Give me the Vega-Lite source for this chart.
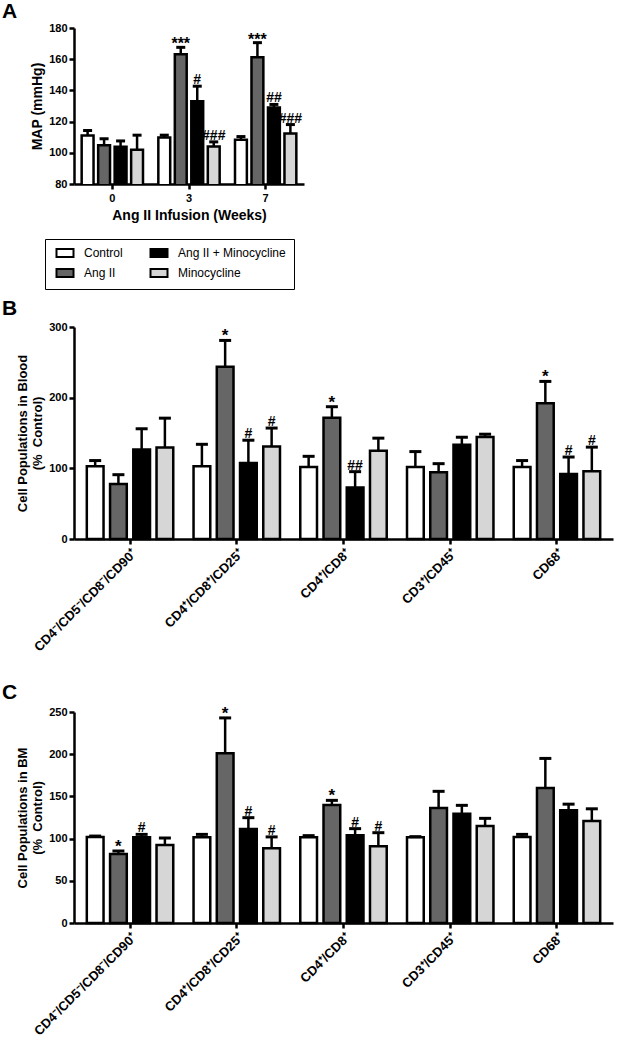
{
  "$schema": "https://vega.github.io/schema/vega-lite/v6.json",
  "background": "white",
  "padding": {"left": 2, "top": 1, "right": 2, "bottom": 2},
  "spacing": 8,
  "config": {
    "font": "Liberation Sans",
    "view": {"stroke": null},
    "axis": {"domainColor": "black", "domainWidth": 2.5, "tickColor": "black", "tickWidth": 2.5, "tickSize": 5, "labelFont": "Liberation Sans", "labelFontWeight": "bold", "labelFontSize": 11, "labelColor": "black", "labelOverlap": false, "titleFont": "Liberation Sans", "titleFontSize": 13, "titleFontWeight": "bold", "titleColor": "black", "grid": false},
    "axisY": {"labelOverlap": false, "labelSeparation": 0},
    "axisQuantitative": {"labelOverlap": false},
    "title": {"font": "Liberation Sans", "fontSize": 21, "fontWeight": "bold", "color": "black", "anchor": "start", "frame": "group"}
  },
  "resolve": {"scale": {"fill": "independent", "x": "independent", "y": "independent", "xOffset": "independent"}, "legend": {"fill": "independent"}},
  "datasets": {
    "A": [
      {"g": "0", "t": "Control", "v": 111.1, "u": 114.3, "s": ""},
      {"g": "0", "t": "Ang II", "v": 104.8, "u": 109, "s": ""},
      {"g": "0", "t": "Ang II + Minocycline", "v": 103.8, "u": 107.6, "s": ""},
      {"g": "0", "t": "Minocycline", "v": 102, "u": 111.3, "s": ""},
      {"g": "3", "t": "Control", "v": 109.8, "u": 111.3, "s": ""},
      {"g": "3", "t": "Ang II", "v": 163.1, "u": 167.6, "s": "***"},
      {"g": "3", "t": "Ang II + Minocycline", "v": 133.1, "u": 142.7, "s": "#"},
      {"g": "3", "t": "Minocycline", "v": 104, "u": 107, "s": "###"},
      {"g": "7", "t": "Control", "v": 108.3, "u": 110.4, "s": ""},
      {"g": "7", "t": "Ang II", "v": 161.2, "u": 170.6, "s": "***"},
      {"g": "7", "t": "Ang II + Minocycline", "v": 129, "u": 131, "s": "##"},
      {"g": "7", "t": "Minocycline", "v": 112.3, "u": 118.1, "s": "###"}
    ],
    "B": [
      {"g": "CD4⁻/CD5⁻/CD8⁻/CD90⁺", "t": "Control", "v": 102.8, "u": 111, "s": ""},
      {"g": "CD4⁻/CD5⁻/CD8⁻/CD90⁺", "t": "Ang II", "v": 78, "u": 91, "s": ""},
      {"g": "CD4⁻/CD5⁻/CD8⁻/CD90⁺", "t": "Ang II + Minocycline", "v": 126.5, "u": 156, "s": ""},
      {"g": "CD4⁻/CD5⁻/CD8⁻/CD90⁺", "t": "Minocycline", "v": 129.4, "u": 171, "s": ""},
      {"g": "CD4⁺/CD8⁺/CD25⁺", "t": "Control", "v": 102.8, "u": 134, "s": ""},
      {"g": "CD4⁺/CD8⁺/CD25⁺", "t": "Ang II", "v": 243.6, "u": 281, "s": "*"},
      {"g": "CD4⁺/CD8⁺/CD25⁺", "t": "Ang II + Minocycline", "v": 107.6, "u": 139.8, "s": "#"},
      {"g": "CD4⁺/CD8⁺/CD25⁺", "t": "Minocycline", "v": 131, "u": 157, "s": "#"},
      {"g": "CD4⁺/CD8⁺", "t": "Control", "v": 101.9, "u": 117, "s": ""},
      {"g": "CD4⁺/CD8⁺", "t": "Ang II", "v": 171.6, "u": 187.2, "s": "*"},
      {"g": "CD4⁺/CD8⁺", "t": "Ang II + Minocycline", "v": 73, "u": 95.3, "s": "##"},
      {"g": "CD4⁺/CD8⁺", "t": "Minocycline", "v": 125, "u": 142.7, "s": ""},
      {"g": "CD3⁺/CD45⁺", "t": "Control", "v": 102, "u": 123.7, "s": ""},
      {"g": "CD3⁺/CD45⁺", "t": "Ang II", "v": 94.3, "u": 106.6, "s": ""},
      {"g": "CD3⁺/CD45⁺", "t": "Ang II + Minocycline", "v": 133.2, "u": 144, "s": ""},
      {"g": "CD3⁺/CD45⁺", "t": "Minocycline", "v": 144.5, "u": 148.3, "s": ""},
      {"g": "CD68⁺", "t": "Control", "v": 102, "u": 111, "s": ""},
      {"g": "CD68⁺", "t": "Ang II", "v": 192, "u": 223, "s": "*"},
      {"g": "CD68⁺", "t": "Ang II + Minocycline", "v": 92, "u": 116, "s": "#"},
      {"g": "CD68⁺", "t": "Minocycline", "v": 96, "u": 130, "s": "#"}
    ],
    "C": [
      {"g": "CD4⁻/CD5⁻/CD8⁻/CD90⁺", "t": "Control", "v": 101.9, "u": 103, "s": ""},
      {"g": "CD4⁻/CD5⁻/CD8⁻/CD90⁺", "t": "Ang II", "v": 81.8, "u": 85.3, "s": "*"},
      {"g": "CD4⁻/CD5⁻/CD8⁻/CD90⁺", "t": "Ang II + Minocycline", "v": 101.5, "u": 105, "s": "#"},
      {"g": "CD4⁻/CD5⁻/CD8⁻/CD90⁺", "t": "Minocycline", "v": 92.4, "u": 100.7, "s": ""},
      {"g": "CD4⁺/CD8⁺/CD25⁺", "t": "Control", "v": 101.5, "u": 105, "s": ""},
      {"g": "CD4⁺/CD8⁺/CD25⁺", "t": "Ang II", "v": 201, "u": 243, "s": "*"},
      {"g": "CD4⁺/CD8⁺/CD25⁺", "t": "Ang II + Minocycline", "v": 111.4, "u": 124.8, "s": "#"},
      {"g": "CD4⁺/CD8⁺/CD25⁺", "t": "Minocycline", "v": 88.5, "u": 102, "s": "#"},
      {"g": "CD4⁺/CD8⁺", "t": "Control", "v": 101.5, "u": 103.5, "s": ""},
      {"g": "CD4⁺/CD8⁺", "t": "Ang II", "v": 139.8, "u": 145.3, "s": "*"},
      {"g": "CD4⁺/CD8⁺", "t": "Ang II + Minocycline", "v": 104, "u": 111.8, "s": "#"},
      {"g": "CD4⁺/CD8⁺", "t": "Minocycline", "v": 90.8, "u": 107, "s": "#"},
      {"g": "CD3⁺/CD45⁺", "t": "Control", "v": 101.5, "u": 102.3, "s": ""},
      {"g": "CD3⁺/CD45⁺", "t": "Ang II", "v": 136.3, "u": 156, "s": ""},
      {"g": "CD3⁺/CD45⁺", "t": "Ang II + Minocycline", "v": 129.5, "u": 139.4, "s": ""},
      {"g": "CD3⁺/CD45⁺", "t": "Minocycline", "v": 115, "u": 124, "s": ""},
      {"g": "CD68⁺", "t": "Control", "v": 102, "u": 105, "s": ""},
      {"g": "CD68⁺", "t": "Ang II", "v": 160, "u": 195, "s": ""},
      {"g": "CD68⁺", "t": "Ang II + Minocycline", "v": 133.7, "u": 140.8, "s": ""},
      {"g": "CD68⁺", "t": "Minocycline", "v": 121, "u": 135.3, "s": ""}
    ]
  },
  "vconcat": [
    {
      "width": 230, "height": 156,
      "title": {"text": "A", "dx": -72, "offset": 0},
      "data": {"name": "A"},
      "encoding": {
        "x": {"field": "g", "type": "nominal", "sort": ["0", "3", "7"], "scale": {"paddingInner": 0.2, "paddingOuter": 0.1}, "axis": {"title": "Ang II Infusion (Weeks)", "titleFontSize": 14, "labelAngle": 0, "labelPadding": 3, "titlePadding": 5}},
        "xOffset": {"field": "t", "type": "nominal", "sort": ["Control", "Ang II", "Ang II + Minocycline", "Minocycline"], "scale": {"paddingInner": 0.28, "paddingOuter": 0}}
      },
      "layer": [
        {"mark": {"type": "bar", "stroke": "black", "strokeWidth": 2.5, "clip": true},
         "encoding": {
           "y": {"field": "v", "type": "quantitative", "scale": {"domain": [80, 180], "zero": false, "nice": false}, "axis": {"title": "MAP (mmHg)", "titleFontSize": 14, "values": [80, 100, 120, 140, 160, 180], "labelOverlap": false, "labelSeparation": 0, "titlePadding": 4}},
           "fill": {"field": "t", "type": "nominal", "scale": {"domain": ["Control", "Ang II", "Ang II + Minocycline", "Minocycline"], "range": ["#ffffff", "#666666", "#000000", "#d6d6d6"]},
             "legend": {"title": null, "orient": "none", "legendX": -29, "legendY": 211, "columns": 2, "strokeColor": "black", "padding": 8, "labelFont": "Liberation Sans", "labelFontSize": 12, "labelColor": "black", "labelOffset": 13, "symbolOffset": 6, "symbolType": "M-1.7,-0.8H1.7V0.8H-1.7Z", "symbolSize": 100, "symbolStrokeColor": "black", "symbolStrokeWidth": 2, "symbolOpacity": 1, "columnPadding": 23, "rowPadding": 4}}
         }},
        {"mark": {"type": "rule", "strokeWidth": 2.5, "color": "black"},
         "encoding": {"y": {"field": "v", "type": "quantitative", "axis": {"title": "MAP (mmHg)", "values": [80, 100, 120, 140, 160, 180], "labelOverlap": false}}, "y2": {"field": "u"}}},
        {"mark": {"type": "tick", "color": "black", "thickness": 3, "size": 9, "opacity": 1},
         "encoding": {"y": {"field": "u", "type": "quantitative", "axis": {"title": "MAP (mmHg)", "values": [80, 100, 120, 140, 160, 180], "labelOverlap": false}}}},
        {"transform": [{"filter": "indexof(datum.s, '*') >= 0"}],
         "mark": {"type": "text", "font": "Liberation Sans", "fontWeight": "bold", "fontSize": 16, "baseline": "bottom", "dy": 5, "color": "black"},
         "encoding": {"y": {"field": "u", "type": "quantitative", "axis": {"title": "MAP (mmHg)", "values": [80, 100, 120, 140, 160, 180], "labelOverlap": false}}, "text": {"field": "s"}}},
        {"transform": [{"filter": "indexof(datum.s, '#') >= 0"}],
         "mark": {"type": "text", "font": "Liberation Sans", "fontWeight": "bold", "fontSize": 14, "baseline": "bottom", "dy": 1, "color": "black"},
         "encoding": {"y": {"field": "u", "type": "quantitative", "axis": {"title": "MAP (mmHg)", "values": [80, 100, 120, 140, 160, 180], "labelOverlap": false}}, "text": {"field": "s"}}}
      ]
    },
    {
      "width": 539, "height": 212,
      "title": {"text": "B", "dx": -72, "offset": 2},
      "data": {"name": "B"},
      "encoding": {
        "x": {"field": "g", "type": "nominal", "sort": ["CD4⁻/CD5⁻/CD8⁻/CD90⁺", "CD4⁺/CD8⁺/CD25⁺", "CD4⁺/CD8⁺", "CD3⁺/CD45⁺", "CD68⁺"], "scale": {"paddingInner": 0.19, "paddingOuter": 0.12}, "axis": {"title": "\u00a0", "titleFontSize": 13, "titlePadding": 6, "labelAngle": -45, "labelFontSize": 13, "labelPadding": 3}},
        "xOffset": {"field": "t", "type": "nominal", "sort": ["Control", "Ang II", "Ang II + Minocycline", "Minocycline"], "scale": {"paddingInner": 0.28, "paddingOuter": 0}}
      },
      "layer": [
        {"mark": {"type": "bar", "stroke": "black", "strokeWidth": 2.5},
         "encoding": {
           "y": {"field": "v", "type": "quantitative", "scale": {"domain": [0, 300], "nice": false}, "axis": {"title": ["Cell Populations in Blood", "(%\u00a0\u00a0Control)"], "values": [0, 100, 200, 300], "labelOverlap": false, "titlePadding": 4}},
           "fill": {"field": "t", "type": "nominal", "scale": {"domain": ["Control", "Ang II", "Ang II + Minocycline", "Minocycline"], "range": ["#ffffff", "#666666", "#000000", "#d6d6d6"]}, "legend": null}
         }},
        {"mark": {"type": "rule", "strokeWidth": 2.5, "color": "black"},
         "encoding": {"y": {"field": "v", "type": "quantitative"}, "y2": {"field": "u"}}},
        {"mark": {"type": "tick", "color": "black", "thickness": 3, "size": 12, "opacity": 1},
         "encoding": {"y": {"field": "u", "type": "quantitative"}}},
        {"transform": [{"filter": "indexof(datum.s, '*') >= 0"}],
         "mark": {"type": "text", "font": "Liberation Sans", "fontWeight": "bold", "fontSize": 17, "baseline": "bottom", "dy": 5, "color": "black"},
         "encoding": {"y": {"field": "u", "type": "quantitative"}, "text": {"field": "s"}}},
        {"transform": [{"filter": "indexof(datum.s, '#') >= 0"}],
         "mark": {"type": "text", "font": "Liberation Sans", "fontWeight": "bold", "fontSize": 14, "baseline": "bottom", "dy": 1, "color": "black"},
         "encoding": {"y": {"field": "u", "type": "quantitative"}, "text": {"field": "s"}}}
      ]
    },
    {
      "width": 539, "height": 211,
      "title": {"text": "C", "dx": -72, "offset": 2},
      "data": {"name": "C"},
      "encoding": {
        "x": {"field": "g", "type": "nominal", "sort": ["CD4⁻/CD5⁻/CD8⁻/CD90⁺", "CD4⁺/CD8⁺/CD25⁺", "CD4⁺/CD8⁺", "CD3⁺/CD45⁺", "CD68⁺"], "scale": {"paddingInner": 0.19, "paddingOuter": 0.12}, "axis": {"title": null, "labelAngle": -45, "labelFontSize": 13, "labelPadding": 3}},
        "xOffset": {"field": "t", "type": "nominal", "sort": ["Control", "Ang II", "Ang II + Minocycline", "Minocycline"], "scale": {"paddingInner": 0.28, "paddingOuter": 0}}
      },
      "layer": [
        {"mark": {"type": "bar", "stroke": "black", "strokeWidth": 2.5},
         "encoding": {
           "y": {"field": "v", "type": "quantitative", "scale": {"domain": [0, 250], "nice": false}, "axis": {"title": ["Cell Populations in BM", "(%\u00a0\u00a0Control)"], "values": [0, 50, 100, 150, 200, 250], "labelOverlap": false, "titlePadding": 4}},
           "fill": {"field": "t", "type": "nominal", "scale": {"domain": ["Control", "Ang II", "Ang II + Minocycline", "Minocycline"], "range": ["#ffffff", "#666666", "#000000", "#d6d6d6"]}, "legend": null}
         }},
        {"mark": {"type": "rule", "strokeWidth": 2.5, "color": "black"},
         "encoding": {"y": {"field": "v", "type": "quantitative"}, "y2": {"field": "u"}}},
        {"mark": {"type": "tick", "color": "black", "thickness": 3, "size": 12, "opacity": 1},
         "encoding": {"y": {"field": "u", "type": "quantitative"}}},
        {"transform": [{"filter": "indexof(datum.s, '*') >= 0"}],
         "mark": {"type": "text", "font": "Liberation Sans", "fontWeight": "bold", "fontSize": 17, "baseline": "bottom", "dy": 5, "color": "black"},
         "encoding": {"y": {"field": "u", "type": "quantitative"}, "text": {"field": "s"}}},
        {"transform": [{"filter": "indexof(datum.s, '#') >= 0"}],
         "mark": {"type": "text", "font": "Liberation Sans", "fontWeight": "bold", "fontSize": 14, "baseline": "bottom", "dy": 1, "color": "black"},
         "encoding": {"y": {"field": "u", "type": "quantitative"}, "text": {"field": "s"}}}
      ]
    }
  ]
}
